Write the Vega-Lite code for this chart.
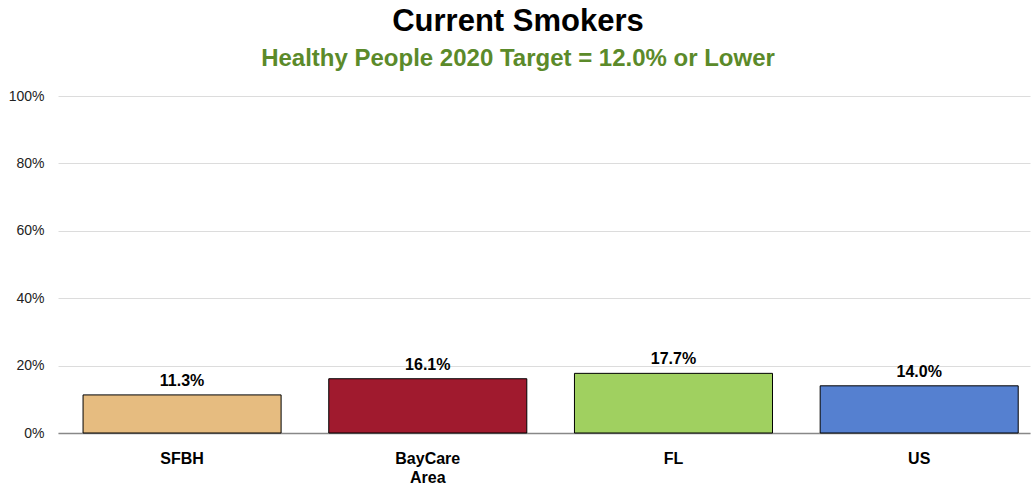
{
  "$schema": "https://vega.github.io/schema/vega-lite/v6.json",
  "width": 972,
  "height": 337,
  "autosize": "none",
  "padding": {"left": 58, "top": 96, "right": 1, "bottom": 56},
  "background": "white",
  "config": {"view": {"stroke": null}},
  "title": {
    "text": "Current Smokers",
    "subtitle": "Healthy People 2020 Target = 12.0% or Lower",
    "anchor": "middle",
    "dx": -26,
    "font": "Liberation Sans",
    "fontSize": 31,
    "fontWeight": "bold",
    "color": "black",
    "subtitleFont": "Liberation Sans",
    "subtitleFontSize": 24,
    "subtitleFontWeight": "bold",
    "subtitleColor": "#5B8A2A",
    "subtitlePadding": 9,
    "offset": 17
  },
  "data": {
    "values": [
      {"group": "SFBH", "value": 11.3, "label": "11.3%"},
      {"group": "BayCare Area", "value": 16.1, "label": "16.1%"},
      {"group": "FL", "value": 17.7, "label": "17.7%"},
      {"group": "US", "value": 14.0, "label": "14.0%"}
    ]
  },
  "encoding": {
    "x": {
      "field": "group",
      "type": "nominal",
      "sort": null,
      "scale": {"paddingInner": 0.194, "paddingOuter": 0.075, "align": 0.68},
      "axis": {
        "title": null,
        "labelAngle": 0,
        "labelFont": "Liberation Sans",
        "labelFontSize": 16,
        "labelFontWeight": "bold",
        "labelColor": "black",
        "labelPadding": 17,
        "labelLineHeight": 19,
        "labelExpr": "datum.value == 'BayCare Area' ? ['BayCare', 'Area'] : datum.value",
        "ticks": false,
        "domainColor": "#888888",
        "domainWidth": 1.5,
        "grid": false
      }
    },
    "y": {
      "field": "value",
      "type": "quantitative",
      "scale": {"domain": [0, 100]},
      "axis": {
        "title": null,
        "values": [0, 20, 40, 60, 80, 100],
        "labelExpr": "datum.value + '%'",
        "labelFont": "Liberation Sans",
        "labelFontSize": 14,
        "labelColor": "#222222",
        "labelPadding": 14,
        "ticks": false,
        "domain": false,
        "gridColor": "#dcdcdc",
        "gridWidth": 1
      }
    }
  },
  "layer": [
    {
      "mark": {"type": "bar", "stroke": "black", "strokeWidth": 1},
      "encoding": {
        "color": {
          "field": "group",
          "type": "nominal",
          "scale": {
            "domain": ["SFBH", "BayCare Area", "FL", "US"],
            "range": ["#E6BC80", "#A01A2E", "#A0D060", "#5580D0"]
          },
          "legend": null
        }
      }
    },
    {
      "mark": {
        "type": "text",
        "dy": -14,
        "font": "Liberation Sans",
        "fontSize": 16,
        "fontWeight": "bold",
        "color": "black"
      },
      "encoding": {
        "text": {"field": "label", "type": "nominal"}
      }
    }
  ]
}
